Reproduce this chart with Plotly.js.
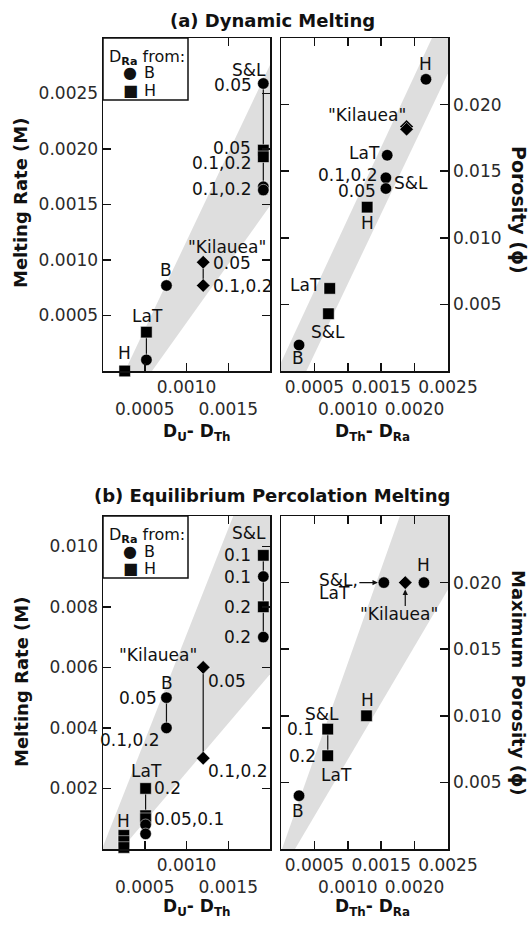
<!DOCTYPE html>
<html>
<head>
<meta charset="utf-8">
<script src="https://cdn.plot.ly/plotly-3.0.1.min.js"></script>
<style>
  html, body { margin: 0; padding: 0; background: #ffffff; }
  #chart { width: 530px; height: 925px; }
</style>
</head>
<body>
<div id="chart"></div>
<script>
// ================= DATA =================
// (a) Dynamic melting — left: melting rate M vs D_U - D_Th
const dynRateGroup = ['S&L','S&L','S&L','S&L','S&L','B','Kilauea','Kilauea','LaT','LaT','H'];
const dynRateX     = [0.00192,0.00192,0.00192,0.00192,0.00192,0.00076,0.00120,0.00120,0.00052,0.00052,0.00026];
const dynRateY     = [0.00259,0.00199,0.00193,0.00166,0.00163,0.00077,0.00098,0.00077,0.00035,0.00010,0.00000];
const dynRateSrc   = ['B','H','H','B','B','B','K','K','H','B','H'];   // D_Ra from: B circle, H square, K = "Kilauea" diamond

// (a) Dynamic melting — right: porosity vs D_Th - D_Ra
const dynPorGroup = ['H','Kilauea','Kilauea','LaT','S&L','S&L','H-sq','LaT-sq','S&L-sq','B'];
const dynPorX     = [0.00217,0.00188,0.00188,0.00159,0.00157,0.00157,0.00129,0.00073,0.00071,0.00027];
const dynPorY     = [0.0219,0.01835,0.01815,0.0162,0.0145,0.0137,0.0123,0.0062,0.0043,0.00195];
const dynPorSrc   = ['B','K','K','B','B','B','H','H','H','B'];

// (b) Equilibrium percolation melting — left: melting rate M vs D_U - D_Th
const eqRateGroup = ['S&L','S&L','S&L','S&L','B','B','Kilauea','Kilauea','LaT','LaT','LaT','LaT','LaT','H','H','H'];
const eqRateX     = [0.00192,0.00192,0.00192,0.00192,0.00076,0.00076,0.00120,0.00120,0.00051,0.00051,0.00051,0.00051,0.00051,0.00025,0.00025,0.00025];
const eqRateY     = [0.0097,0.0090,0.0080,0.0070,0.0050,0.0040,0.0060,0.0030,0.0020,0.0011,0.0010,0.0008,0.0005,0.00045,0.00025,0.00005];
const eqRateSrc   = ['H','B','H','B','B','B','K','K','H','H','H','B','B','H','H','H'];

// (b) Equilibrium percolation melting — right: maximum porosity vs D_Th - D_Ra
const eqPorGroup = ['S&L/LaT','Kilauea','H','S&L','S&L','H-sq','B'];
const eqPorX     = [0.00154,0.00186,0.00214,0.00070,0.00070,0.00128,0.00027];
const eqPorY     = [0.020,0.020,0.020,0.009,0.007,0.010,0.004];
const eqPorSrc   = ['B','K','B','H','H','H','B'];

// grey bands (polygon vertices, data units)
const dynRateBandX = [0.000263,0.000587,0.0025,0.0025];
const dynRateBandY = [0,0,0.002015,0.00355];
const dynPorBandX  = [-0.00006,0.00038,0.00275,0.00226];
const dynPorBandY  = [0,0,0.025,0.025];
const eqRateBandX  = [-0.00004,0.00016,0.0025,0.0025,0.00156];
const eqRateBandY  = [-0.0002,-0.0002,0.0074,0.011,0.011];
const eqPorBandX   = [0.000015,0.00021,0.00315,0.00178];
const eqPorBandY   = [0,0,0.025,0.025];

// tick values / labels
const tickDU      = [0.0005,0.0010,0.0015];
const tickDUText  = ['0.0005','0.0010','0.0015'];
const tickDURow   = [2,1,2];
const tickDTh     = [0.0005,0.0010,0.0015,0.0020,0.0025];
const tickDThText = ['0.0005','0.0010','0.0015','0.0020','0.0025'];
const tickDThRow  = [1,2,1,2,1];
const tickRateA     = [0.0005,0.0010,0.0015,0.0020,0.0025];
const tickRateAText = ['0.0005','0.0010','0.0015','0.0020','0.0025'];
const tickRateB     = [0.002,0.004,0.006,0.008,0.010];
const tickRateBText = ['0.002','0.004','0.006','0.008','0.010'];
const tickPor       = [0.005,0.010,0.015,0.020];
const tickPorText   = ['0.005','0.010','0.015','0.020'];

// ================= STYLE / BUILD =================
const FONT = 'DejaVu Sans, Verdana, sans-serif';
const INK = '#111111';
const BAND = '#dedede';
const SYMBOL = {B:'circle', H:'square', K:'diamond'};
const SIZE = {B:11.5, H:11.5, K:10.5};
const W = 530, H = 925;
const px = v => v / W;
const py = v => 1 - v / H;

function bandTrace(xa, ya, X, Y) {
  return {type:'scatter', mode:'lines', xaxis:xa, yaxis:ya, x:X.concat([X[0]]), y:Y.concat([Y[0]]),
          fill:'toself', fillcolor:BAND, line:{width:0, color:BAND}, hoverinfo:'skip', showlegend:false};
}
function groupTraces(xa, ya, X, Y, G, S) {
  const order = [], map = {};
  G.forEach((g, i) => { if (!map[g]) { map[g] = []; order.push(g); } map[g].push(i); });
  return order.map(g => {
    const idx = map[g];
    return {
      type:'scatter', mode: idx.length > 1 ? 'lines+markers' : 'markers',
      xaxis:xa, yaxis:ya, name:g, showlegend:false, hoverinfo:'skip', cliponaxis:false,
      x: idx.map(i => X[i]), y: idx.map(i => Y[i]),
      line:{color:INK, width:1.2},
      marker:{symbol: idx.map(i => SYMBOL[S[i]]), size: idx.map(i => SIZE[S[i]]),
              color:'#000000', opacity:1, line:{color:'#ffffff', width:0.5}}
    };
  });
}

const data = [].concat(
  [bandTrace('x','y',dynRateBandX,dynRateBandY), bandTrace('x2','y2',dynPorBandX,dynPorBandY),
   bandTrace('x3','y3',eqRateBandX,eqRateBandY), bandTrace('x4','y4',eqPorBandX,eqPorBandY)],
  groupTraces('x','y',dynRateX,dynRateY,dynRateGroup,dynRateSrc),
  groupTraces('x2','y2',dynPorX,dynPorY,dynPorGroup,dynPorSrc),
  groupTraces('x3','y3',eqRateX,eqRateY,eqRateGroup,eqRateSrc),
  groupTraces('x4','y4',eqPorX,eqPorY,eqPorGroup,eqPorSrc)
);

function axis(extra) {
  return Object.assign({
    showline:true, linecolor:INK, linewidth:1.5, mirror:'allticks',
    ticks:'inside', ticklen:8, tickwidth:1.5, tickcolor:INK,
    showgrid:false, zeroline:false, fixedrange:true, tickmode:'array', tickangle:0,
    tickfont:{family:FONT, size:17, color:'#2a2a2a'}
  }, extra);
}
const stag = (txt, rows) => txt.map((t, i) => rows[i] === 2 ? '<br>' + t : t);

const XL = [px(103), px(270)], XR = [px(281), px(448)];
const YT = [py(371), py(38)], YB = [py(849), py(516)];

const layout = {
  width:W, height:H, autosize:false, showlegend:false,
  margin:{l:0, r:0, t:0, b:0, pad:0},
  paper_bgcolor:'#ffffff', plot_bgcolor:'rgba(0,0,0,0)',
  font:{family:FONT, color:INK},
  xaxis:  axis({domain:XL, range:[0,0.002], anchor:'y', tickvals:tickDU, ticktext:stag(tickDUText,tickDURow)}),
  yaxis:  axis({domain:YT, range:[0,0.003], anchor:'x', tickvals:tickRateA, ticktext:tickRateAText}),
  xaxis2: axis({domain:XR, range:[0,0.0025], anchor:'y2', tickvals:tickDTh, ticktext:stag(tickDThText,tickDThRow)}),
  yaxis2: axis({domain:YT, range:[0,0.025], anchor:'x2', side:'right', tickvals:tickPor, ticktext:tickPorText}),
  xaxis3: axis({domain:XL, range:[0,0.002], anchor:'y3', tickvals:tickDU, ticktext:stag(tickDUText,tickDURow)}),
  yaxis3: axis({domain:YB, range:[0,0.011], anchor:'x3', tickvals:tickRateB, ticktext:tickRateBText}),
  xaxis4: axis({domain:XR, range:[0,0.0025], anchor:'y4', tickvals:tickDTh, ticktext:stag(tickDThText,tickDThRow)}),
  yaxis4: axis({domain:YB, range:[0,0.025], anchor:'x4', side:'right', tickvals:tickPor, ticktext:tickPorText}),
  shapes:[], annotations:[]
};

// legend boxes
function legendBox(top) {
  layout.shapes.push({type:'rect', xref:'paper', yref:'paper', layer:'above',
    x0:px(103), x1:px(188), y0:py(top), y1:py(top + 62),
    fillcolor:'#ffffff', line:{color:INK, width:1.5}});
  const f = {family:FONT, size:16, color:INK};
  const A = (x, y, text, xanchor, size) => layout.annotations.push({xref:'paper', yref:'paper', x:px(x), y:py(y),
    text, xanchor, yanchor:'middle', showarrow:false, borderpad:0, font:Object.assign({}, f, size ? {size} : {})});
  A(108, top + 19, 'D<sub><b>Ra</b></sub> from:', 'left');
  A(130, top + 35, '●', 'center', 16);
  A(143, top + 35, 'B', 'left');
  A(130, top + 52, '■', 'center', 16);
  A(143, top + 52, 'H', 'left');
}
legendBox(38);
legendBox(516);

// titles and axis titles
function T(x, y, text, size, angle) {
  layout.annotations.push({xref:'paper', yref:'paper', x:px(x), y:py(y), text, xanchor:'center', yanchor:'middle',
    textangle: angle || 0, showarrow:false, font:{family:FONT, size, color:INK}});
}
T(272, 21, '<b>(a) Dynamic Melting</b>', 18);
T(272, 496, '<b>(b) Equilibrium Percolation Melting</b>', 18);
T(21, 203, '<b>Melting Rate (M)</b>', 18, -90);
T(21, 682, '<b>Melting Rate (M)</b>', 18, -90);
T(519, 210, '<b>Porosity (ϕ)</b>', 19, 90);
T(519, 683, '<b>Maximum Porosity (ϕ)</b>', 18, 90);
T(196, 432, '<b>D<sub>U</sub>- D<sub>Th</sub></b>', 17);
T(196, 907, '<b>D<sub>U</sub>- D<sub>Th</sub></b>', 17);
T(372, 432, '<b>D<sub>Th</sub>- D<sub>Ra</sub></b>', 17);
T(372, 907, '<b>D<sub>Th</sub>- D<sub>Ra</sub></b>', 17);

// point labels: [index, text, xanchor, xshift, yshift]
function labels(xa, ya, X, Y, list) {
  list.forEach(([i, text, xanchor, xs, ys]) => layout.annotations.push({
    xref:xa, yref:ya, x:X[i], y:Y[i], text, xanchor, yanchor:'middle', xshift:xs, yshift:ys,
    showarrow:false, borderpad:0, font:{family:FONT, size:17, color:INK}}));
}
labels('x','y',dynRateX,dynRateY,[
  [0,'S&amp;L','right',4,13.5],[0,'0.05','right',-10,-1],[1,'0.05','right',-11,2],
  [2,'0.1,0.2','right',-11,-6],[4,'0.1,0.2','right',-11,1],
  [6,'"Kilauea"','left',-16,15],[6,'0.05','left',9,-1],[7,'0.1,0.2','left',9,0],
  [5,'B','center',0,15.5],[8,'LaT','center',1.5,16],[10,'H','center',0,18]
]);
labels('x2','y2',dynPorX,dynPorY,[
  [0,'H','center',0,15.5],[1,'"Kilauea"','right',0,12],[3,'LaT','right',-6,2],
  [4,'0.1,0.2','right',-8,3],[5,'S&amp;L','left',7,6],[5,'0.05','right',-9,-2],
  [6,'H','center',0,-16],[7,'LaT','right',-8,3],[8,'S&amp;L','center',0,-18],[9,'B','center',-1,-13]
]);
labels('x3','y3',eqRateX,eqRateY,[
  [0,'S&amp;L','right',4,22],[0,'0.1','right',-11,0],[1,'0.1','right',-11,0],
  [2,'0.2','right',-11,0],[3,'0.2','right',-11,0],
  [6,'"Kilauea"','right',-5,12],[6,'0.05','left',4,-14],[7,'0.1,0.2','left',4,-13],
  [4,'B','center',1,14.6],[4,'0.05','right',-8.5,0],[5,'0.1,0.2','right',-6.5,-12],
  [8,'LaT','center',0.5,17.5],[8,'0.2','left',7.5,0],[9,'0.05,0.1','left',7.5,-3],[13,'H','center',0,14.5]
]);
labels('x4','y4',eqPorX,eqPorY,[
  [0,'S&amp;L,','center',-45.4,3],[0,'LaT','center',-48.9,-10],[1,'"Kilauea"','center',-6.7,-31.4],
  [2,'H','center',0,18],[3,'S&amp;L','center',-5.3,15],[3,'0.1','right',-12.8,0],
  [4,'0.2','right',-11,0],[4,'LaT','center',9,-19],[5,'H','center',1,16],[6,'B','center',-1,-15]
]);
// arrows in panel (b) right
[[0,-26,0,6],[1,0,25,7]].forEach(([i, ax, ay, st]) => layout.annotations.push({
  xref:'x4', yref:'y4', x:eqPorX[i], y:eqPorY[i], text:'', showarrow:true, ax, ay,
  arrowhead:2, arrowsize:0.9, arrowwidth:1.2, arrowcolor:INK, standoff:st}));

Plotly.newPlot('chart', data, layout, {displayModeBar:false, staticPlot:true});
</script>
</body>
</html>
